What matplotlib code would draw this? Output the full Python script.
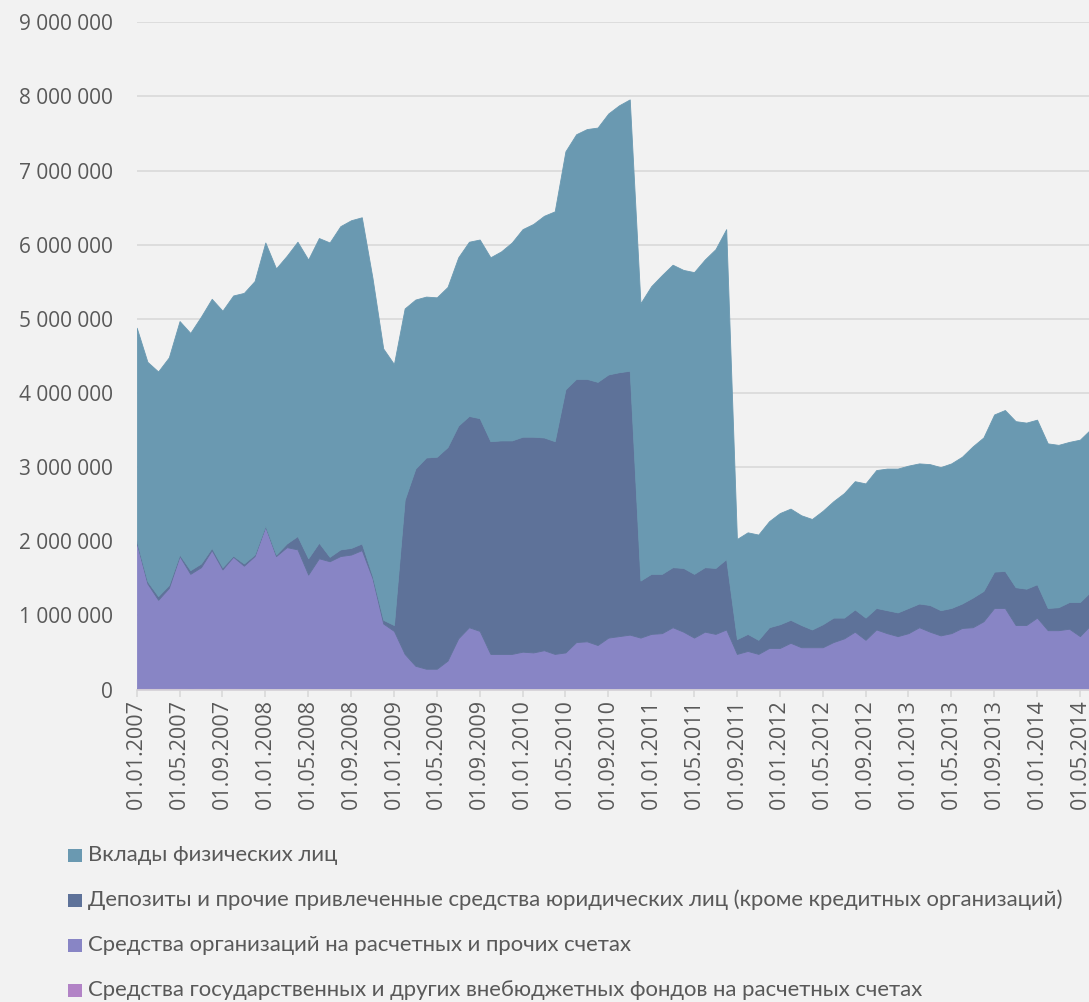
import numpy as np
import pandas as pd
import matplotlib
matplotlib.use("Agg")
import matplotlib.pyplot as plt
from matplotlib.patches import Rectangle
from matplotlib.ticker import FuncFormatter

# monthly dates, 01.01.2007 .. 01.06.2014
dates = pd.date_range("2007-01-01", periods=90, freq="MS")
date_labels = [d.strftime("%d.%m.%Y") for d in dates]

# values, thousands
vklady = [2880, 2960, 3030, 3070, 3150, 3200, 3330, 3360, 3460, 3510, 3650, 3690,
          3820, 3860, 3880, 3970, 4030, 4110, 4240, 4360, 4420, 4400, 4020, 3660,
          3520, 2580, 2280, 2170, 2150, 2160, 2270, 2350, 2410, 2480, 2550, 2670,
          2800, 2870, 2990, 3100, 3210, 3300, 3370, 3430, 3520, 3600, 3660, 3740,
          3880, 4030, 4080, 4020, 4070, 4150, 4300, 4450, 1350, 1370, 1420, 1430,
          1500, 1500, 1480, 1490, 1530, 1570, 1680, 1730, 1810, 1860, 1910, 1940,
          1920, 1890, 1900, 1930, 1950, 1980, 2040, 2070, 2120, 2170, 2240, 2240,
          2220, 2220, 2190, 2160, 2190, 2190]
depozity = [20, 30, 50, 40, 20, 50, 50, 30, 30, 15, 30, 20,
            10, 20, 50, 180, 220, 210, 60, 90, 90, 90, 30, 50,
            80, 2080, 2660, 2850, 2860, 2880, 2870, 2850, 2870, 2870, 2880, 2880,
            2900, 2910, 2870, 2870, 3550, 3550, 3540, 3550, 3550, 3560, 3560, 770,
            810, 800, 810, 860, 860, 870, 890, 950, 200, 230, 190, 280,
            320, 310, 300, 240, 310, 330, 280, 300, 300, 290, 310, 320,
            340, 320, 360, 340, 340, 330, 400, 410, 490, 500, 510, 490,
            450, 300, 310, 360, 460, 450]
organizacii = [1962, 1412, 1193, 1354, 1783, 1546, 1633, 1866, 1604, 1774, 1656, 1786,
               2186, 1787, 1906, 1876, 1536, 1757, 1716, 1787, 1806, 1868, 1487, 877,
               777, 467, 307, 268, 268, 378, 677, 827, 776, 466, 467, 466,
               497, 487, 517, 467, 487, 627, 637, 586, 687, 706, 726, 686,
               736, 746, 826, 766, 686, 766, 736, 796, 466, 506, 466, 546,
               546, 616, 556, 556, 556, 626, 676, 766, 656, 796, 746, 706,
               746, 826, 766, 716, 746, 816, 826, 906, 1086, 1086, 856, 856,
               956, 786, 786, 806, 706, 856]
fondy = [18, 18, 17, 16, 17, 14, 17, 14, 16, 16, 14, 14,
         14, 13, 14, 14, 14, 13, 14, 13, 14, 12, 13, 13,
         13, 13, 13, 12, 12, 12, 13, 13, 14, 14, 13, 14,
         13, 13, 13, 13, 13, 13, 13, 14, 13, 14, 14, 14,
         14, 14, 14, 14, 14, 14, 14, 14, 14, 14, 14, 14,
         14, 14, 14, 14, 14, 14, 14, 14, 14, 14, 14, 14,
         14, 14, 14, 14, 14, 14, 14, 14, 14, 14, 14, 14,
         14, 14, 14, 14, 14, 14]

labels = ["Вклады физических лиц",
          "Депозиты и прочие привлеченные средства юридических лиц (кроме кредитных организаций)",
          "Средства организаций на расчетных и прочих счетах",
          "Средства государственных и других внебюджетных фондов на расчетных счетах"]
colors = ["#6a99b1", "#5e7299", "#8885c5", "#b283c6"]

bg = "#f2f2f2"
txt = "#595959"
W, H = 1089, 1002

fig = plt.figure(figsize=(W / 100, H / 100), dpi=100, facecolor=bg)
ax = fig.add_axes([136.7 / W, 1 - 689.5 / H, 1 - 136.7 / W, (689.5 - 22.3) / H])
ax.set_facecolor(bg)

x = np.arange(len(dates))
series = [np.array(fondy) * 1000, np.array(organizacii) * 1000,
          np.array(depozity) * 1000, np.array(vklady) * 1000]
stack_colors = colors[::-1]
polys = ax.stackplot(x, *series, colors=stack_colors, zorder=2)
for p, c in zip(polys, stack_colors):
    p.set_edgecolor(c)
    p.set_linewidth(0.6)

ax.set_xlim(0, 88.85)
ax.set_ylim(0, 9e6)
ax.set_yticks(np.arange(0, 9e6 + 1, 1e6))
ax.yaxis.set_major_formatter(FuncFormatter(lambda v, p: f"{int(v):,}".replace(",", " ")))
ax.grid(axis="y", color="#d9d9d9", linewidth=1.2, zorder=0)
ax.set_axisbelow(True)

tick_pos = x[::4]
ax.set_xticks(tick_pos)
ax.set_xticklabels([date_labels[i] for i in tick_pos], rotation=90)

for s in ["top", "right", "left"]:
    ax.spines[s].set_visible(False)
ax.spines["bottom"].set_color("#d9d9d9")
ax.spines["bottom"].set_linewidth(1.2)
ax.spines["bottom"].set_zorder(3)

ax.tick_params(axis="y", length=0, pad=17, labelsize=15, labelcolor=txt)
ax.tick_params(axis="x", length=5, width=1.2, color="#d9d9d9", pad=2,
               labelsize=15.5, labelcolor=txt)
for lab in ax.get_xticklabels() + ax.get_yticklabels():
    lab.set_family(["Open Sans", "DejaVu Sans"])

# legend, one entry per row under the chart
rows_y = [855, 900, 945, 990]
for lab, col, yy in zip(labels, colors, rows_y):
    fig.patches.append(Rectangle((68 / W, 1 - (yy + 7) / H), 13.5 / W, 13.5 / H,
                                 transform=fig.transFigure, facecolor=col,
                                 edgecolor="none"))
    fig.text(88 / W, 1 - yy / H, lab, ha="left", va="center", fontsize=15.9,
             color=txt, family=["Lato", "Open Sans", "DejaVu Sans"])

fig.savefig("out.png", dpi=100, facecolor=bg)
plt.close(fig)
